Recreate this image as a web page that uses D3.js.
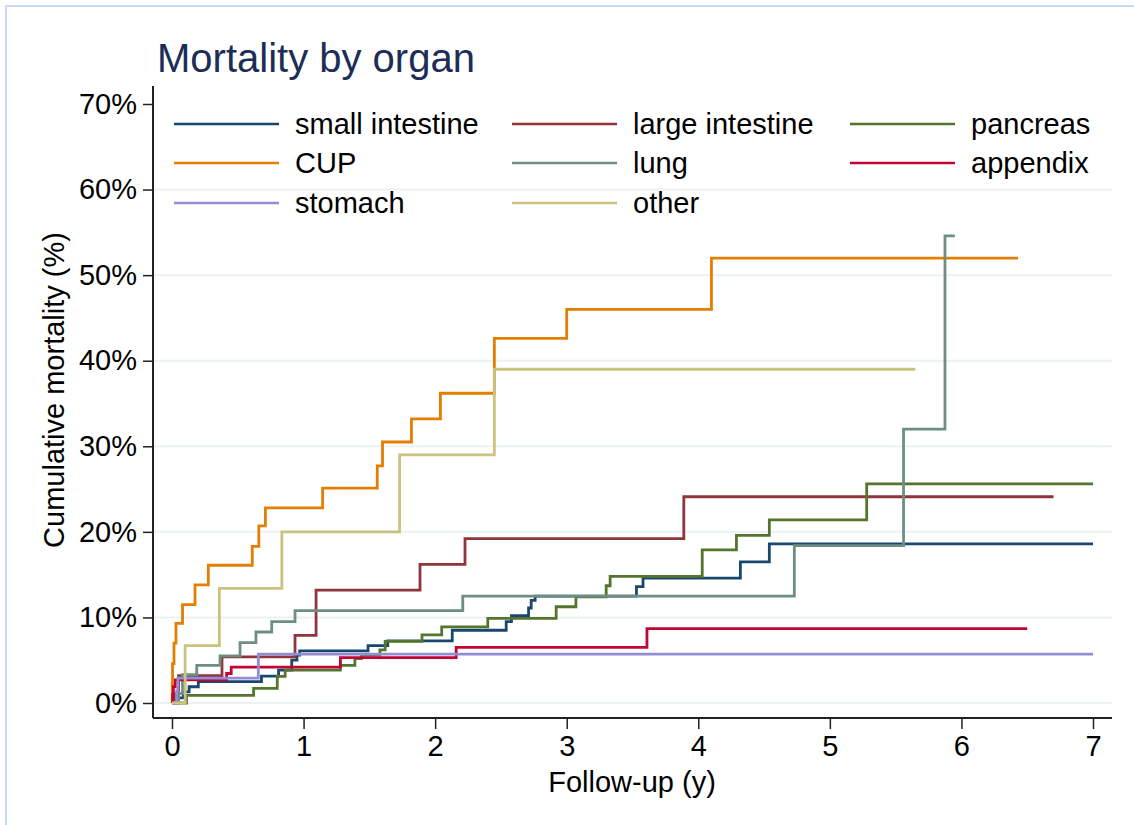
<!DOCTYPE html>
<html>
<head>
<meta charset="utf-8">
<script src="https://cdn.jsdelivr.net/npm/d3@7"></script>
<style>
  body { margin: 0; background: #fff; }
  svg { display: block; font-family: Arial, "Liberation Sans", sans-serif; }
</style>
</head>
<body>
<svg id="chart" width="1134" height="825"></svg>
<script>
// --- Data (time in years, cumulative mortality in %) ---
const xTicks = [0, 1, 2, 3, 4, 5, 6, 7];
const yTicks = [0, 10, 20, 30, 40, 50, 60, 70];
const gridTicks = [0, 10, 20, 30, 40, 50, 60];

const smallIntestineT = [0, 0.05, 0.086, 0.13, 0.2, 0.68, 0.81, 0.91, 0.95, 0.97, 1.49, 1.64, 2.13, 2.54, 2.58, 2.71, 2.73, 2.76, 3.53, 3.58, 4.32, 4.54, 7.0];
const smallIntestineV = [0, 0.6, 1.3, 1.9, 2.5, 3.15, 3.85, 5.0, 5.6, 6.1, 6.7, 7.25, 8.5, 9.5, 10.2, 11.1, 12.0, 12.5, 13.6, 14.6, 16.5, 18.6, 18.6];

const largeIntestineT = [0, 0.02, 0.05, 0.38, 0.935, 1.095, 1.885, 2.227, 3.89, 6.70];
const largeIntestineV = [0, 1.1, 3.2, 5.4, 7.9, 13.2, 16.2, 19.2, 24.1, 24.1];

const pancreasT = [0, 0.11, 0.62, 0.80, 0.86, 1.28, 1.39, 1.44, 1.58, 1.62, 1.90, 2.05, 2.40, 2.92, 3.07, 3.30, 3.33, 4.03, 4.29, 4.54, 5.28, 7.0];
const pancreasV = [0, 0.9, 1.7, 3.1, 3.85, 4.4, 5.2, 5.6, 6.2, 7.2, 7.95, 8.9, 9.9, 11.25, 12.4, 13.7, 14.8, 17.9, 19.6, 21.4, 25.6, 25.6];

const cupT = [0, 0.002, 0.004, 0.015, 0.03, 0.08, 0.175, 0.276, 0.61, 0.66, 0.71, 1.145, 1.56, 1.60, 1.82, 2.04, 2.45, 3.00, 4.10, 6.43];
const cupV = [0, 2.3, 4.6, 7.0, 9.3, 11.5, 13.8, 16.1, 18.3, 20.7, 22.8, 25.1, 27.7, 30.5, 33.2, 36.2, 42.6, 46.0, 52.0, 52.0];

const lungT = [0, 0.05, 0.08, 0.188, 0.365, 0.517, 0.638, 0.758, 0.935, 2.21, 4.73, 5.56, 5.875, 5.95];
const lungV = [0, 1.1, 3.3, 4.4, 5.5, 7.05, 8.3, 9.5, 10.8, 12.5, 18.4, 32.0, 54.6, 54.6];

const appendixT = [0, 0.005, 0.01, 0.025, 0.415, 0.45, 1.28, 2.16, 3.61, 6.5];
const appendixV = [0, 1.0, 1.9, 2.7, 3.45, 4.2, 5.3, 6.5, 8.7, 8.7];

const stomachT = [0, 0.035, 0.045, 0.656, 7.0];
const stomachV = [0, 1.4, 2.9, 5.7, 5.7];

const otherT = [0, 0.1, 0.36, 0.835, 1.73, 2.45, 5.65];
const otherV = [0, 6.7, 13.4, 20.0, 29.0, 39.0, 39.0];

const seriesNames = ['small intestine', 'large intestine', 'pancreas', 'CUP', 'lung', 'appendix', 'stomach', 'other'];
const seriesColors = ['#1a476f', '#90353b', '#55752f', '#e37e00', '#6e8e84', '#c10534', '#938dd2', '#cac27e'];
const seriesTimes = [smallIntestineT, largeIntestineT, pancreasT, cupT, lungT, appendixT, stomachT, otherT];
const seriesValues = [smallIntestineV, largeIntestineV, pancreasV, cupV, lungV, appendixV, stomachV, otherV];

// --- Layout ---
const svg = d3.select('#chart');
const axisColor = '#222';
const gridColor = '#eaf2f3';
const fontSize = 29;

const x = d3.scaleLinear().domain([0, 7]).range([172, 1093]);
const y = d3.scaleLinear().domain([0, 70]).range([703, 104]);

// outer frame (cut off at right/bottom like the reference)
svg.append('rect')
  .attr('x', 6).attr('y', 6)
  .attr('width', 1200).attr('height', 900)
  .attr('fill', 'none')
  .attr('stroke', '#c9dbf2')
  .attr('stroke-width', 2);

// title
svg.append('text')
  .attr('x', 157).attr('y', 72)
  .attr('font-size', 40)
  .attr('fill', '#1c2d56')
  .text('Mortality by organ');

// gridlines
svg.append('g')
  .selectAll('line')
  .data(gridTicks)
  .enter().append('line')
  .attr('x1', 153).attr('x2', 1112)
  .attr('y1', d => y(d)).attr('y2', d => y(d))
  .attr('stroke', gridColor)
  .attr('stroke-width', 2);

// y axis
const yAxis = svg.append('g')
  .attr('transform', 'translate(153,0)')
  .call(d3.axisLeft(y).tickValues(yTicks).tickFormat(d => d + '%').tickSize(10).tickPadding(6));
yAxis.select('.domain').remove();
yAxis.selectAll('line').attr('stroke', axisColor).attr('stroke-width', 1.5);
yAxis.selectAll('text').attr('font-size', fontSize).attr('fill', '#000').attr('font-family', 'Arial, "Liberation Sans", sans-serif');
svg.append('line')
  .attr('x1', 153).attr('x2', 153).attr('y1', 86).attr('y2', 718)
  .attr('stroke', axisColor).attr('stroke-width', 2);

// x axis
const xAxis = svg.append('g')
  .attr('transform', 'translate(0,718)')
  .call(d3.axisBottom(x).tickValues(xTicks).tickFormat(d3.format('d')).tickSize(11).tickPadding(6));
xAxis.select('.domain').remove();
xAxis.selectAll('line').attr('stroke', axisColor).attr('stroke-width', 1.5);
xAxis.selectAll('text').attr('font-size', fontSize).attr('fill', '#000').attr('font-family', 'Arial, "Liberation Sans", sans-serif');
svg.append('line')
  .attr('x1', 153).attr('x2', 1112).attr('y1', 718).attr('y2', 718)
  .attr('stroke', axisColor).attr('stroke-width', 2);

// axis titles
svg.append('text')
  .attr('x', 632).attr('y', 792)
  .attr('text-anchor', 'middle')
  .attr('font-size', fontSize)
  .text('Follow-up (y)');

svg.append('text')
  .attr('transform', 'translate(64,390) rotate(-90)')
  .attr('text-anchor', 'middle')
  .attr('font-size', fontSize)
  .text('Cumulative mortality (%)');

// --- Curves ---
const line = d3.line()
  .x(d => x(d[0]))
  .y(d => y(d[1]))
  .curve(d3.curveStepAfter);

seriesNames.forEach((name, i) => {
  const pts = seriesTimes[i].map((t, j) => [t, seriesValues[i][j]]);
  svg.append('path')
    .datum(pts)
    .attr('fill', 'none')
    .attr('stroke', seriesColors[i])
    .attr('stroke-width', 2.8)
    .attr('d', line);
});

// --- Legend (3 columns, row-major) ---
const legendColX = [174, 512, 850];
const legendRowY = [124, 163, 203];
const legend = svg.append('g');
seriesNames.forEach((name, i) => {
  const lx = legendColX[i % 3];
  const ly = legendRowY[Math.floor(i / 3)];
  legend.append('line')
    .attr('x1', lx).attr('x2', lx + 105)
    .attr('y1', ly).attr('y2', ly)
    .attr('stroke', seriesColors[i])
    .attr('stroke-width', 2.4);
  legend.append('text')
    .attr('x', lx + 121).attr('y', ly + 10)
    .attr('font-size', fontSize)
    .text(name);
});
</script>
</body>
</html>
